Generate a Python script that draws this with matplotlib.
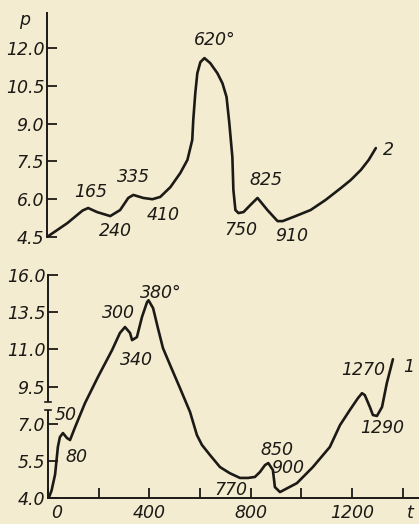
import matplotlib
matplotlib.use('Agg')
from matplotlib import pyplot as plt
from matplotlib.patches import Rectangle
from matplotlib.transforms import ScaledTranslation
import numpy as np

# curve 2 (upper panel): temperature t, value p
t2 = [0, 80, 140, 162, 197, 249, 288, 320, 340, 379, 415, 446, 486, 525,
      553, 572, 576, 584, 592, 604, 620, 643, 671, 691, 707, 718, 730, 734,
      742, 754, 774, 801, 829, 868, 908, 928, 979, 1038, 1097, 1157, 1196,
      1236, 1267, 1295]
p2 = [4.5, 5.05, 5.55, 5.65, 5.49, 5.33, 5.57, 6.05, 6.17, 6.05, 6.0, 6.09,
      6.48, 7.04, 7.56, 8.35, 9.14, 10.21, 11.0, 11.44, 11.6, 11.4, 11.0,
      10.6, 10.06, 9.02, 7.67, 6.37, 5.57, 5.45, 5.49, 5.77, 6.05, 5.57,
      5.13, 5.13, 5.33, 5.57, 5.97, 6.44, 6.76, 7.16, 7.56, 8.03]

# curve 1 (lower panel)
t1 = [3, 14, 28, 39, 47, 59, 75, 87, 107, 146, 197, 253, 284, 304, 324,
      332, 351, 371, 391, 397, 415, 434, 454, 482, 521, 561, 588, 608, 640,
      679, 718, 758, 790, 817, 837, 857, 870, 888, 896, 916, 983, 1046,
      1113, 1153, 1192, 1224, 1240, 1251, 1271, 1283, 1299, 1319, 1338, 1362]
p1 = [4.0, 4.3, 4.95, 6.06, 6.46, 6.62, 6.42, 6.34, 6.86, 8.38, 9.88,
      10.97, 12.1, 12.5, 12.1, 11.62, 11.82, 13.17, 14.17, 14.3, 13.77,
      12.43, 11.08, 10.37, 9.4, 7.78, 6.54, 6.14, 5.73, 5.25, 5.0, 4.81,
      4.81, 4.85, 5.05, 5.33, 5.41, 5.13, 4.44, 4.24, 4.6, 5.25, 6.06, 6.94,
      7.92, 8.72, 9.05, 8.92, 8.12, 7.58, 7.52, 8.12, 9.64, 10.6]

y2_ticks = [4.5, 6.0, 7.5, 9.0, 10.5, 12.0]
y1_ticks = [4.0, 5.5, 7.0, 9.5, 11.0, 13.5, 16.0]
x_major = [0, 400, 800, 1200]
x_minor = [200, 600, 1000, 1400]

# annotations: (text, t, p)
labels2 = [('165', 170, 6.29), ('240', 268, 4.74), ('335', 340, 6.88),
           ('410', 458, 5.37), ('620°', 662, 12.32), ('825', 861, 6.76),
           ('750', 762, 4.78), ('910', 962, 4.54), ('2', 1346, 7.95)]
labels1 = [('380°', 445, 14.82), ('300', 280, 13.43), ('340', 351, 10.56),
           ('50', 70, 7.58), ('80', 112, 5.65), ('770', 722, 4.32),
           ('850', 904, 5.94), ('900', 947, 5.21), ('1270', 1244, 10.16),
           ('1290', 1319, 6.82), ('1', 1425, 10.28)]

bg = '#f4ecd0'
ink = '#1c1a17'
fs = 12.5
font = dict(family='DejaVu Sans', style='italic', size=fs, color=ink)

plt.rcParams['font.family'] = 'DejaVu Sans'
fig = plt.figure(figsize=(4.19, 5.24), dpi=100)
fig.patch.set_facecolor(bg)

W, H = 419.0, 524.0
xmax = 1465

# ---- upper panel ----
ax2 = fig.add_axes([47 / W, (H - 237) / H, (W - 47) / W, 224 / H])
ax2.set_facecolor('none')
ax2.plot(t2, p2, color=ink, lw=1.9, solid_capstyle='round',
         solid_joinstyle='round')
ax2.set_xlim(0, xmax)
ax2.set_ylim(4.5, 13.39)
for s in ['top', 'right', 'bottom']:
    ax2.spines[s].set_visible(False)
ax2.spines['left'].set_color(ink)
ax2.spines['left'].set_linewidth(1.4)
ax2.set_xticks([])
ax2.set_yticks(y2_ticks)
ax2.set_yticklabels(['%.1f' % v for v in y2_ticks], **font)
ax2.tick_params(axis='y', direction='in', length=7, width=1.3,
                color=ink, pad=2)
for txt, x, y in labels2:
    ax2.text(x, y, txt, ha='center', va='center', clip_on=False, **font)
ax2.text(-87, 13.1, 'p', ha='center', va='center', clip_on=False, **font)

# ---- lower panel: uneven axis with a break ----
idx = np.arange(len(y1_ticks))


def fwd(v):
    return np.interp(v, y1_ticks, idx)


def inv(i):
    return np.interp(i, idx, y1_ticks)


ax1 = fig.add_axes([48 / W, (H - 498) / H, (W - 48) / W, 223 / H])
ax1.set_facecolor('none')
ax1.set_yscale('function', functions=(fwd, inv))
ax1.plot(t1, p1, color=ink, lw=1.9, solid_capstyle='round',
         solid_joinstyle='round')
ax1.set_xlim(0, xmax)
ax1.set_ylim(4.0, 16.0)
for s in ['top', 'right']:
    ax1.spines[s].set_visible(False)
for s in ['left', 'bottom']:
    ax1.spines[s].set_color(ink)
    ax1.spines[s].set_linewidth(1.4)
ax1.set_yticks(y1_ticks)
ax1.set_yticklabels(['%.1f' % v for v in y1_ticks], **font)
ax1.yaxis.set_minor_locator(plt.NullLocator())
ax1.set_xticks(x_major)
ax1.set_xticklabels([str(v) for v in x_major], **font)
ax1.set_xticks(x_minor, minor=True)
ax1.tick_params(axis='both', which='both', direction='in', length=7,
                width=1.3, color=ink)
ax1.tick_params(axis='y', pad=2)
ax1.tick_params(axis='x', pad=4)
# the "0" sits a little right of the axis in the original
zero = ax1.get_xticklabels()[0]
zero.set_transform(zero.get_transform()
                   + ScaledTranslation(0.09, 0, fig.dpi_scale_trans))
for txt, x, y in labels1:
    ax1.text(x, y, txt, ha='center', va='center', clip_on=False, **font)
ax1.text(1429, -0.067, 't', transform=ax1.get_xaxis_transform(),
         ha='center', va='center', clip_on=False, **font)

# break in the lower y axis
bt = ax1.get_yaxis_transform()
ax1.add_patch(Rectangle((-0.01, 7.92), 0.02, 0.53, transform=bt,
                        facecolor=bg, edgecolor='none', zorder=5,
                        clip_on=False))
for yb in (7.92, 8.45):
    ax1.plot([-0.009, 0.009], [yb, yb], transform=bt, color=ink, lw=1.2,
             zorder=6, clip_on=False)

fig.savefig('out.png', dpi=100, facecolor=bg)
